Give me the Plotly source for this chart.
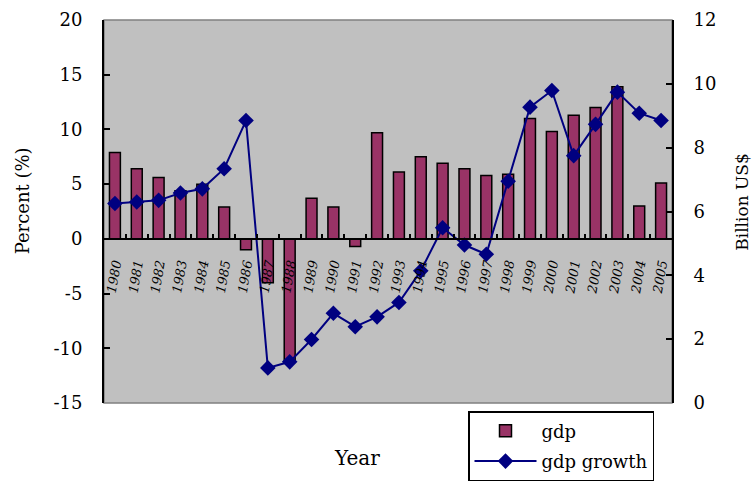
import plotly.graph_objects as go

# Annual data
years = [str(y) for y in range(1980, 2006)]
gdp = [7.9, 6.4, 5.6, 4.4, 5.0, 2.9, -1.0, -4.0, -11.1, 3.7, 2.9, -0.7, 9.7,
       6.1, 7.5, 6.9, 6.4, 5.8, 5.9, 11.0, 9.8, 11.3, 12.0, 13.9, 3.0, 5.1]
gdp_growth = [6.25, 6.30, 6.35, 6.58, 6.71, 7.34, 8.85, 1.10, 1.29, 1.99, 2.81,
              2.39, 2.70, 3.15, 4.14, 5.49, 4.95, 4.66, 6.95, 9.27, 9.79, 7.75,
              8.73, 9.74, 9.08, 8.85]

left_ticks = [-15, -10, -5, 0, 5, 10, 15, 20]
left_labels = ["-15", "-10", "-5", "0", "5", "10", "15", "20"]
right_ticks = [0, 2, 4, 6, 8, 10, 12]
right_labels = ["0", "2", "4", "6", "8", "10", "12"]

FONT = "DejaVu Serif"
L_MIN, L_MAX = -15, 20

fig = go.Figure()

fig.add_trace(go.Bar(
    x=years, y=gdp, name="gdp", legendgroup="a",
    marker=dict(color="#993366", line=dict(color="black", width=1.5)),
    width=0.5,
))

fig.add_trace(go.Scatter(
    x=years, y=gdp_growth, name="gdp growth", yaxis="y2", legendgroup="b",
    mode="lines+markers",
    line=dict(color="#000080", width=2),
    marker=dict(symbol="diamond", size=12, color="#000080"),
))

# Category axis drawn along the zero line of the left axis
zero_pos = (0 - L_MIN) / (L_MAX - L_MIN)

fig.update_layout(
    width=756, height=481,
    margin=dict(l=104, r=84, t=20, b=78, autoexpand=False),
    paper_bgcolor="white",
    plot_bgcolor="#C0C0C0",
    font=dict(family=FONT, size=17, color="black"),
    showlegend=True,
    xaxis=dict(
        type="category",
        range=[-0.5, len(years) - 0.5],
        anchor="free", position=zero_pos,
        showline=True, linecolor="black", linewidth=2,
        ticks="inside", ticklen=4, tickwidth=2, tickcolor="black",
        tickson="boundaries",
        tickangle=-80,
        tickfont=dict(family=FONT, size=13, style="italic"),
        ticklabelstandoff=11,
        showgrid=False, zeroline=False,
    ),
    yaxis=dict(
        range=[L_MIN, L_MAX],
        tickvals=left_ticks, ticktext=left_labels,
        showline=True, linecolor="black", linewidth=2,
        ticks="inside", ticklen=6, tickwidth=2, tickcolor="black",
        ticklabelstandoff=16,
        tickfont=dict(size=18),
        showgrid=False, zeroline=False,
    ),
    yaxis2=dict(
        range=[0, 12], overlaying="y", side="right",
        tickvals=right_ticks, ticktext=right_labels,
        showline=True, linecolor="black", linewidth=2,
        ticks="inside", ticklen=6, tickwidth=2, tickcolor="black",
        ticklabelstandoff=16,
        tickfont=dict(size=18),
        showgrid=False, zeroline=False,
    ),
    legend=dict(
        xref="container", yref="container",
        x=468 / 756, y=(481 - 411) / 481, xanchor="left", yanchor="top",
        bordercolor="black", borderwidth=1.5, bgcolor="white",
        font=dict(family=FONT, size=18),
        itemwidth=62, traceorder="grouped", tracegroupgap=4,
    ),
    shapes=[
        dict(type="rect", xref="paper", yref="paper", x0=0, x1=1, y0=0, y1=1,
             line=dict(color="#808080", width=1.5), layer="below"),
    ],
    annotations=[
        dict(text="Percent (%)", xref="paper", yref="paper", x=-0.144, y=0.527,
             xanchor="center", yanchor="middle",
             textangle=-90, showarrow=False, font=dict(size=18)),
        dict(text="Billion US$", xref="paper", yref="paper", x=1.123, y=0.525,
             xanchor="center", yanchor="middle",
             textangle=-90, showarrow=False, font=dict(size=17)),
        dict(text="Year", xref="paper", yref="paper", x=0.4454, y=-0.1434,
             xanchor="center", yanchor="middle",
             showarrow=False, font=dict(size=20)),
    ],
)

fig.write_html("out.html")
